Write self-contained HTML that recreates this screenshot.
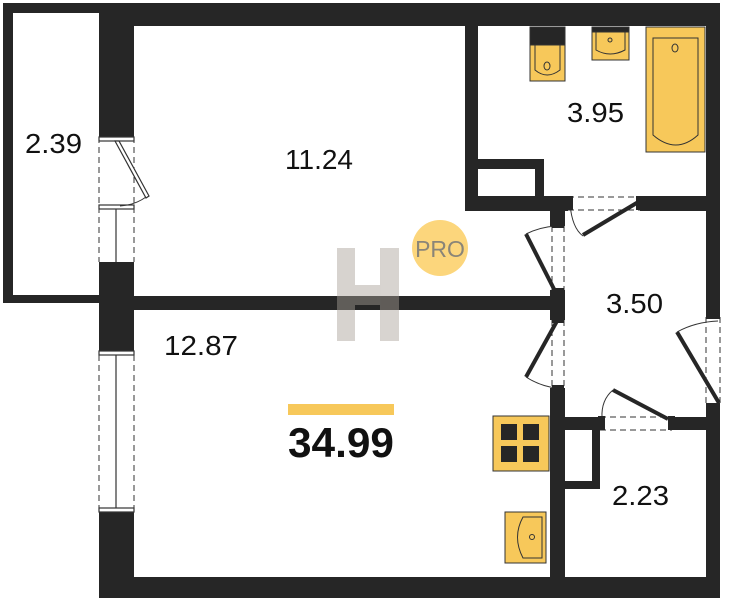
<!DOCTYPE html>
<html><head><meta charset="utf-8"><style>
html,body{margin:0;padding:0;background:#fff;}
svg{display:block;}
text{font-family:"Liberation Sans",sans-serif;}
</style></head><body>
<svg width="735" height="600" viewBox="0 0 735 600" xmlns="http://www.w3.org/2000/svg">
<g fill="#262626">
<rect x="3" y="3" width="110" height="10"/>
<rect x="3" y="3" width="10" height="300"/>
<rect x="3" y="295" width="110" height="8"/>
<rect x="99" y="3" width="621" height="23"/>
<rect x="706" y="3" width="14" height="314"/>
<rect x="706" y="407" width="14" height="191"/>
<rect x="99" y="3" width="35" height="134"/>
<rect x="99" y="262" width="35" height="93"/>
<rect x="99" y="508" width="35" height="90"/>
<rect x="99" y="577" width="621" height="21"/>
<rect x="134" y="296" width="431" height="14"/>
<rect x="465" y="26" width="13" height="185"/>
<rect x="465" y="196" width="103" height="15"/>
<rect x="478" y="159" width="66" height="10"/>
<rect x="535" y="159" width="9" height="38"/>
<rect x="640" y="196" width="66" height="15"/>
<rect x="550" y="196" width="15" height="30"/>
<rect x="550" y="290" width="15" height="30"/>
<rect x="550" y="388" width="15" height="210"/>
<rect x="565" y="417" width="35" height="13"/>
<rect x="672" y="417" width="34" height="13"/>
<rect x="592" y="417" width="8" height="72"/>
<rect x="565" y="481" width="35" height="8"/>
</g>
<g stroke="#333" stroke-width="1" stroke-dasharray="6,4" fill="none">
<line x1="99" y1="137" x2="99" y2="262"/><line x1="134" y1="137" x2="134" y2="262"/>
<line x1="99" y1="355" x2="99" y2="508"/><line x1="134" y1="355" x2="134" y2="508"/>
<line x1="552" y1="226" x2="552" y2="290"/><line x1="564" y1="226" x2="564" y2="290"/>
<line x1="552" y1="320" x2="552" y2="388"/><line x1="564" y1="320" x2="564" y2="388"/>
<line x1="568" y1="197" x2="640" y2="197"/><line x1="568" y1="210" x2="640" y2="210"/>
<line x1="706" y1="317" x2="706" y2="407"/><line x1="720" y1="317" x2="720" y2="407"/>
<line x1="600" y1="417" x2="672" y2="417"/><line x1="600" y1="430" x2="672" y2="430"/>
</g>
<g stroke="#333" stroke-width="1.2" fill="#fff">
<rect x="99" y="137" width="35" height="4"/>
<rect x="99" y="205" width="35" height="4"/>
<line x1="116" y1="209" x2="116" y2="262"/>
<rect x="99" y="351" width="35" height="4"/>
<rect x="99" y="508" width="35" height="4"/>
<line x1="116" y1="355" x2="116" y2="508"/>
<polygon points="115,141 119,141 149,196 146,198"/>
</g>
<path d="M146,197 Q135,205 120,206" stroke="#333" fill="none"/>
<g stroke="#262626" stroke-width="4" fill="none">
<line x1="640" y1="201" x2="583" y2="235"/>
<line x1="556" y1="293" x2="526" y2="234"/>
<line x1="557" y1="321" x2="526" y2="377"/>
<line x1="719" y1="403" x2="677" y2="332"/>
<line x1="668" y1="419" x2="613" y2="390"/>
</g>
<g stroke="#333" stroke-width="1" fill="none">
<path d="M570,204 Q572,228 583,236"/>
<path d="M526,234 Q540,227 556,226"/>
<path d="M526,377 Q540,386 556,388"/>
<path d="M677,332 Q695,322 718,321"/>
<path d="M613,390 Q601,400 602,418"/>
</g>
<g fill="#262626">
<rect x="566" y="196" width="7" height="14"/><rect x="636" y="196" width="7" height="14"/>
<rect x="552" y="221" width="12" height="7"/><rect x="552" y="288" width="12" height="7"/>
<rect x="552" y="316" width="12" height="7"/><rect x="552" y="385" width="12" height="7"/>
<rect x="706" y="313" width="14" height="6"/><rect x="706" y="403" width="14" height="6"/>
<rect x="598" y="416" width="7" height="14"/><rect x="668" y="416" width="7" height="14"/>
</g>
<g stroke="#333" stroke-width="1">
<rect x="530" y="27" width="35" height="54" fill="#f7c85a"/>
<rect x="530" y="27" width="35" height="18" fill="#262626"/>
<path d="M535,45 L535,70 Q547,80 560,70 L560,45" fill="none"/>
<ellipse cx="547" cy="66" rx="3" ry="4" fill="none"/>
<rect x="592" y="27" width="37" height="33" fill="#f7c85a"/>
<rect x="592" y="27" width="37" height="5" fill="#262626"/>
<path d="M596,32 L596,50 Q610,58 625,50 L625,32" fill="none"/>
<circle cx="610" cy="40" r="2" fill="none"/>
<rect x="646" y="27" width="59" height="125" fill="#f7c85a"/>
<path d="M653,38 L698,38 L698,135 Q676,155 653,135 Z" fill="none"/>
<ellipse cx="675" cy="48" rx="3" ry="4" fill="none"/>
<rect x="493" y="416" width="56" height="55" fill="#f7c85a"/>
<rect x="505" y="512" width="41" height="51" fill="#f7c85a"/>
<path d="M542,517 L523,517 Q512,537 523,558 L542,558 Z" fill="none"/>
<circle cx="532" cy="537" r="2.5" fill="none"/>
</g>
<g fill="#262626">
<rect x="501" y="424" width="16" height="16"/><rect x="523" y="424" width="16" height="16"/>
<rect x="501" y="446" width="16" height="16"/><rect x="523" y="446" width="16" height="16"/>
</g>
<circle cx="440" cy="248" r="28" fill="#fcd67c"/>
<text x="440" y="257" font-size="23" fill="#8a8578" text-anchor="middle">PRO</text>
<g fill="#a8a097" opacity="0.45">
<rect x="337" y="248" width="18" height="93"/>
<rect x="380" y="248" width="19" height="93"/>
<rect x="355" y="285" width="25" height="20"/>
</g>
<rect x="288" y="404" width="106" height="11" fill="#f7c85a"/>
<g fill="#111" font-size="28">
<text x="25" y="153" textLength="57" lengthAdjust="spacingAndGlyphs">2.39</text>
<text x="285" y="169" textLength="68" lengthAdjust="spacingAndGlyphs">11.24</text>
<text x="567" y="122" textLength="57" lengthAdjust="spacingAndGlyphs">3.95</text>
<text x="606" y="313" textLength="57" lengthAdjust="spacingAndGlyphs">3.50</text>
<text x="164" y="355" textLength="74" lengthAdjust="spacingAndGlyphs">12.87</text>
<text x="612" y="505" textLength="57" lengthAdjust="spacingAndGlyphs">2.23</text>
<text x="288" y="457" font-size="42" font-weight="bold" textLength="106" lengthAdjust="spacingAndGlyphs">34.99</text>
</g>
</svg>
</body></html>
